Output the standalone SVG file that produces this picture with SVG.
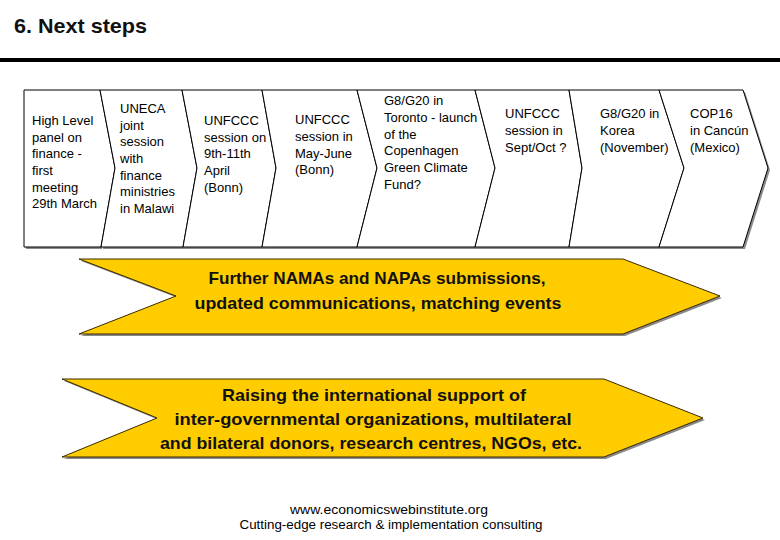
<svg xmlns="http://www.w3.org/2000/svg" width="780" height="540" viewBox="0 0 780 540">
<style>
.sh{fill:#8a8a8a;stroke:none}
.box{fill:#ffffff;stroke:#000;stroke-width:1}
.t{font-family:"Liberation Sans",Arial,sans-serif;font-size:13px;fill:#000}
.yl{fill:#FFCC00;stroke:#3a2a00;stroke-width:1}
.big{font-family:"Liberation Sans",Arial,sans-serif;font-size:17px;font-weight:bold;fill:#111;text-anchor:middle}
.ft{font-family:"Liberation Sans",Arial,sans-serif;font-size:12px;fill:#000;text-anchor:middle}
</style>
<rect x="0" y="0" width="780" height="540" fill="#fff"/>
<g id="title">
<text x="14" y="33" textLength="133" lengthAdjust="spacingAndGlyphs" style="font-family:'Liberation Sans',Arial,sans-serif;font-size:21px;font-weight:bold;fill:#111">6. Next steps</text>
<line x1="0" y1="60" x2="780" y2="60" stroke="#000" stroke-width="4"/>
</g>
<g id="n1">
<polygon class="sh" points="26,92 102,92 117,170 102,249 26,249"/>
<polygon class="box" points="24,90 100,90 115,168 101,247 24,247"/>
<text class="t" x="32"><tspan x="32" y="125">High Level</tspan><tspan x="32" y="141.5">panel on</tspan><tspan x="32" y="158">finance -</tspan><tspan x="32" y="175">first</tspan><tspan x="32" y="191.5">meeting</tspan><tspan x="32" y="208">29th March</tspan></text>
</g>
<g id="n2">
<polygon class="sh" points="102,92 184,92 199,170 185,249 103,249 117,170"/>
<polygon class="box" points="100,90 182,90 197,168 183,247 101,247 115,168"/>
<text class="t"><tspan x="120" y="113">UNECA</tspan><tspan x="120" y="129.5">joint</tspan><tspan x="120" y="146">session</tspan><tspan x="120" y="163">with</tspan><tspan x="120" y="179.5">finance</tspan><tspan x="120" y="196">ministries</tspan><tspan x="120" y="213">in Malawi</tspan></text>
</g>
<g id="n3">
<polygon class="sh" points="184,92 264,92 278,170 264,249 185,249 199,170"/>
<polygon class="box" points="182,90 262,90 276,168 262,247 183,247 197,168"/>
<text class="t"><tspan x="204" y="125">UNFCCC</tspan><tspan x="204" y="141.5">session on</tspan><tspan x="204" y="158">9th-11th</tspan><tspan x="204" y="175">April</tspan><tspan x="204" y="191.5">(Bonn)</tspan></text>
</g>
<g id="n4">
<polygon class="sh" points="264,92 359,92 379,170 359,249 264,249 278,170"/>
<polygon class="box" points="262,90 357,90 377,168 357,247 262,247 276,168"/>
<text class="t"><tspan x="295" y="124">UNFCCC</tspan><tspan x="295" y="141">session in</tspan><tspan x="295" y="157.5">May-June</tspan><tspan x="295" y="174">(Bonn)</tspan></text>
</g>
<g id="n5">
<polygon class="sh" points="359,92 477,92 497,170 477,249 359,249 379,170"/>
<polygon class="box" points="357,90 475,90 495,168 475,247 357,247 377,168"/>
<text class="t"><tspan x="384" y="105">G8/G20 in</tspan><tspan x="384" y="122">Toronto - launch</tspan><tspan x="384" y="138.5">of the</tspan><tspan x="384" y="155">Copenhagen</tspan><tspan x="384" y="172">Green Climate</tspan><tspan x="384" y="188.5">Fund?</tspan></text>
</g>
<g id="n6">
<polygon class="sh" points="477,92 571,92 584,170 571,249 477,249 497,170"/>
<polygon class="box" points="475,90 569,90 582,168 569,247 475,247 495,168"/>
<text class="t"><tspan x="505" y="118">UNFCCC</tspan><tspan x="505" y="135">session in</tspan><tspan x="505" y="152">Sept/Oct ?</tspan></text>
</g>
<g id="n7">
<polygon class="sh" points="571,92 661,92 686,170 661,249 571,249 584,170"/>
<polygon class="box" points="569,90 659,90 684,168 659,247 569,247 582,168"/>
<text class="t"><tspan x="600" y="118">G8/G20 in</tspan><tspan x="600" y="135">Korea</tspan><tspan x="600" y="152">(November)</tspan></text>
</g>
<g id="n8">
<polygon class="sh" points="661,92 745,92 770,170 745,249 661,249 686,170"/>
<polygon class="box" points="659,90 743,90 768,168 743,247 659,247 684,168"/>
<text class="t"><tspan x="690" y="118">COP16</tspan><tspan x="690" y="135">in Cancún</tspan><tspan x="690" y="152">(Mexico)</tspan></text>
</g>
<g id="arrow1">
<polygon class="sh" points="81,261 625,261 722,298 625,336 81,336 178,298"/>
<polygon class="yl" points="79,259 623,259 720,296 623,334 79,334 176,296"/>
<text class="big" x="377" y="284" textLength="337" lengthAdjust="spacingAndGlyphs">Further NAMAs and NAPAs submissions,</text>
<text class="big" x="378" y="309" textLength="367" lengthAdjust="spacingAndGlyphs">updated communications, matching events</text>
</g>
<g id="arrow2">
<polygon class="sh" points="64,381 606,381 705,420 606,459 64,459 159,420"/>
<polygon class="yl" points="62,379 604,379 703,418 604,457 62,457 157,418"/>
<text class="big" x="374" y="401" textLength="304" lengthAdjust="spacingAndGlyphs">Raising the international support of</text>
<text class="big" x="373" y="425" textLength="397" lengthAdjust="spacingAndGlyphs">inter-governmental organizations, multilateral</text>
<text class="big" x="371" y="449" textLength="422" lengthAdjust="spacingAndGlyphs">and bilateral donors, research centres, NGOs, etc.</text>
</g>
<g id="connectors"></g>
<g id="footer">
<text class="ft" x="389" y="514" textLength="198" lengthAdjust="spacingAndGlyphs">www.economicswebinstitute.org</text>
<text class="ft" x="391" y="529" textLength="303" lengthAdjust="spacingAndGlyphs">Cutting-edge research &amp; implementation consulting</text>
</g>
</svg>
